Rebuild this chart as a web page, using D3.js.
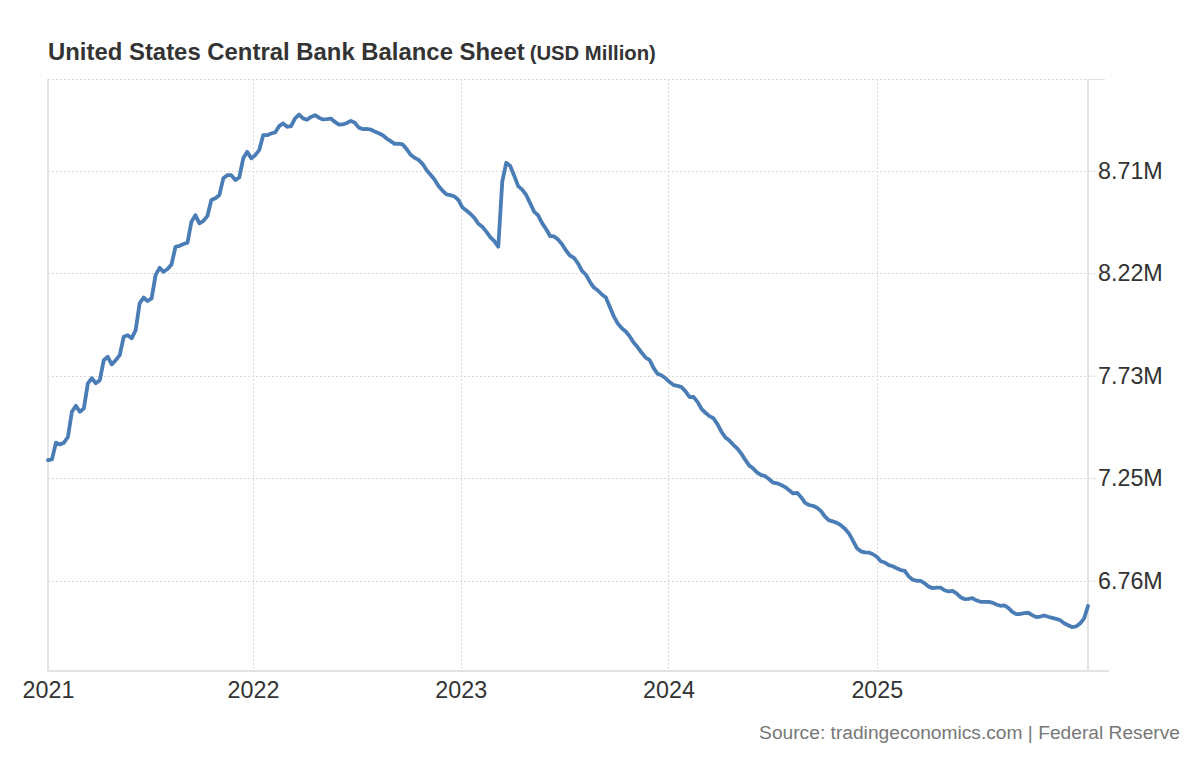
<!DOCTYPE html>
<html><head><meta charset="utf-8">
<script src="https://cdn.jsdelivr.net/npm/d3@7"></script>
<style>
body{margin:0;background:#fff}
svg{display:block;font-family:"Liberation Sans",Arial,Helvetica,sans-serif}
</style>
</head><body>
<svg id="chart" width="1200" height="772"></svg>
<script>
// Weekly observations (Wednesdays), values in millions of USD Million
const startDate = "2021-01-06";
const balanceSheet = [
7.333,7.337,7.416,7.408,7.416,7.443,7.563,7.591,7.563,7.579,
7.698,7.722,7.698,7.713,7.808,7.824,7.788,7.808,7.832,7.919,
7.927,7.912,7.951,8.078,8.106,8.089,8.102,8.212,8.247,8.228,
8.241,8.263,8.347,8.351,8.360,8.366,8.466,8.497,8.458,8.470,
8.493,8.569,8.577,8.592,8.672,8.687,8.687,8.664,8.676,8.767,
8.798,8.767,8.782,8.806,8.877,8.877,8.885,8.890,8.920,8.933,
8.917,8.920,8.957,8.975,8.957,8.950,8.964,8.972,8.960,8.952,
8.953,8.956,8.940,8.927,8.928,8.935,8.945,8.936,8.913,8.906,
8.907,8.904,8.894,8.886,8.877,8.861,8.849,8.836,8.837,8.833,
8.811,8.784,8.770,8.760,8.741,8.712,8.689,8.667,8.636,8.614,
8.596,8.592,8.586,8.569,8.534,8.519,8.504,8.484,8.456,8.442,
8.419,8.393,8.374,8.347,8.656,8.746,8.731,8.684,8.635,8.618,
8.593,8.554,8.514,8.496,8.459,8.431,8.398,8.396,8.382,8.359,
8.329,8.305,8.294,8.268,8.233,8.214,8.180,8.153,8.139,8.120,
8.106,8.061,8.016,7.982,7.960,7.944,7.921,7.891,7.869,7.843,
7.820,7.808,7.770,7.743,7.735,7.722,7.704,7.690,7.686,7.680,
7.660,7.633,7.633,7.610,7.577,7.558,7.542,7.532,7.504,7.468,
7.441,7.426,7.406,7.388,7.364,7.334,7.307,7.293,7.274,7.262,
7.257,7.242,7.226,7.223,7.215,7.205,7.190,7.175,7.178,7.157,
7.130,7.120,7.116,7.107,7.091,7.065,7.047,7.042,7.035,7.023,
7.007,6.985,6.951,6.915,6.900,6.895,6.894,6.886,6.874,6.853,
6.847,6.834,6.829,6.819,6.811,6.807,6.781,6.765,6.760,6.759,
6.748,6.732,6.725,6.727,6.727,6.715,6.709,6.712,6.700,6.682,
6.673,6.674,6.677,6.667,6.660,6.660,6.660,6.656,6.647,6.641,
6.643,6.631,6.612,6.601,6.602,6.606,6.608,6.597,6.587,6.590,
6.595,6.589,6.584,6.579,6.573,6.558,6.549,6.540,6.543,6.557,
6.580,6.640
];
const yTickValues = [6.76, 7.247, 7.734, 8.221, 8.708];
const yDomain = [6.336, 9.144];
const xTickDates = ["2021-01-06","2022-01-01","2023-01-01","2024-01-01","2025-01-01"];
const xTickLabels = ["2021","2022","2023","2024","2025"];
const titleText = "United States Central Bank Balance Sheet";
const unitText = "(USD Million)";
const sourceText = "Source: tradingeconomics.com | Federal Reserve";

const parse = d3.utcParse("%Y-%m-%d");
const t0 = parse(startDate);
const data = balanceSheet.map((v, i) => ({date: d3.utcDay.offset(t0, 7 * i), value: v}));

const m = {left: 48, right: 1088, top: 79, bottom: 670};
const svg = d3.select("#chart");

const x = d3.scaleUtc()
  .domain([data[0].date, data[data.length - 1].date])
  .range([m.left, m.right]);
const y = d3.scaleLinear().domain(yDomain).range([m.bottom, m.top]);

// Grid
const grid = svg.append("g");
grid.selectAll("line.h").data(yTickValues.concat([yDomain[1]])).join("line")
  .attr("x1", m.left).attr("x2", m.right)
  .attr("y1", d => Math.round(y(d)) + 0.5).attr("y2", d => Math.round(y(d)) + 0.5)
  .attr("stroke", "#d9d9d9").attr("stroke-width", 1).attr("stroke-dasharray", "2,2");
grid.selectAll("line.v").data(xTickDates.slice(1)).join("line")
  .attr("x1", d => Math.round(x(parse(d))) + 0.5).attr("x2", d => Math.round(x(parse(d))) + 0.5)
  .attr("y1", m.top).attr("y2", m.bottom)
  .attr("stroke", "#d9d9d9").attr("stroke-width", 1).attr("stroke-dasharray", "2,2");

// Axis frame lines
const axisColor = "#e3e3e3";
svg.append("line").attr("x1", m.left).attr("x2", m.left).attr("y1", m.top).attr("y2", m.bottom + 1)
  .attr("stroke", axisColor).attr("stroke-width", 2);
svg.append("line").attr("x1", m.left - 1).attr("x2", 1109).attr("y1", m.bottom + 1).attr("y2", m.bottom + 1)
  .attr("stroke", axisColor).attr("stroke-width", 2);
svg.append("line").attr("x1", m.right).attr("x2", m.right).attr("y1", m.top).attr("y2", m.bottom + 1)
  .attr("stroke", axisColor).attr("stroke-width", 2);
svg.append("line").attr("x1", m.right).attr("x2", 1105).attr("y1", m.top + 0.5).attr("y2", m.top + 0.5)
  .attr("stroke", axisColor).attr("stroke-width", 1);

// Right y axis
const yAxis = d3.axisRight(y).tickValues(yTickValues).tickSize(8).tickPadding(2)
  .tickFormat(d => d.toFixed(2) + "M");
const gy = svg.append("g").attr("transform", `translate(${m.right},0)`).call(yAxis);
gy.select(".domain").remove();
gy.selectAll(".tick line").attr("stroke", axisColor).attr("stroke-width", 1);
gy.selectAll(".tick text").attr("fill", "#333").attr("font-size", "23.3px");

// Bottom x axis (labels only)
const xAxis = d3.axisBottom(x).tickValues(xTickDates.map(parse)).tickSize(0).tickPadding(0)
  .tickFormat((d, i) => xTickLabels[i]);
const gx = svg.append("g").attr("transform", `translate(0,${m.bottom})`).call(xAxis);
gx.select(".domain").remove();
gx.selectAll(".tick text").attr("fill", "#333").attr("font-size", "23.3px").attr("y", 11).attr("dy", "0.71em");

// Series line
svg.append("path").datum(data)
  .attr("fill", "none").attr("stroke", "#4a7cb6").attr("stroke-width", 3.8)
  .attr("stroke-linejoin", "round").attr("stroke-linecap", "round")
  .attr("d", d3.line().x(d => x(d.date)).y(d => y(d.value)));

// Title
const title = svg.append("text").attr("x", 48).attr("y", 60).attr("fill", "#333").attr("font-weight", "bold");
title.append("tspan").attr("font-size", "23.9px").text(titleText);
title.append("tspan").attr("font-size", "20.3px").attr("dx", 5).text(unitText);

// Source
svg.append("text").attr("x", 1180).attr("y", 739).attr("text-anchor", "end")
  .attr("fill", "#777").attr("font-size", "19.2px").text(sourceText);
</script>
</body></html>
